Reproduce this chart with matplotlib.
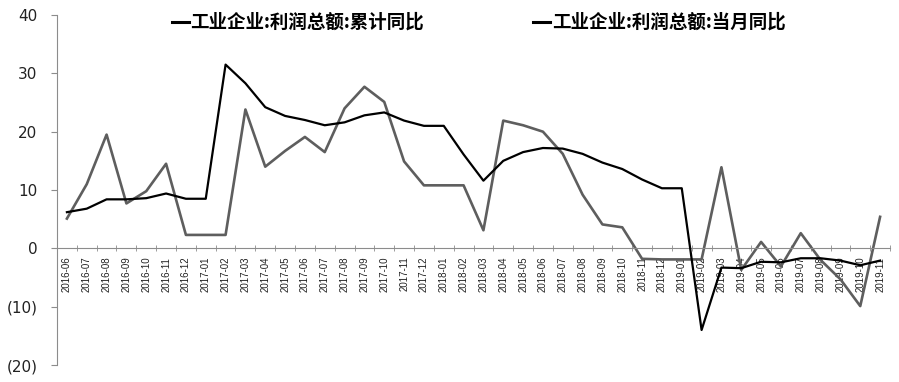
import numpy as np
import matplotlib
matplotlib.use('Agg')
import matplotlib.pyplot as plt
from matplotlib.ticker import FuncFormatter

plt.rcParams['font.family'] = ['DejaVu Sans', 'Noto Sans CJK SC']

months = ['2016-06', '2016-07', '2016-08', '2016-09', '2016-10', '2016-11', '2016-12',
          '2017-01', '2017-02', '2017-03', '2017-04', '2017-05', '2017-06', '2017-07',
          '2017-08', '2017-09', '2017-10', '2017-11', '2017-12', '2018-01', '2018-02',
          '2018-03', '2018-04', '2018-05', '2018-06', '2018-07', '2018-08', '2018-09',
          '2018-10', '2018-11', '2018-12', '2019-01', '2019-02', '2019-03', '2019-04',
          '2019-05', '2019-06', '2019-07', '2019-08', '2019-09', '2019-10', '2019-11']

# 工业企业:利润总额:累计同比 (%)
cumulative = [6.2, 6.8, 8.4, 8.4, 8.6, 9.4, 8.5, 8.5, 31.5, 28.3, 24.2, 22.7, 22.0, 21.1,
              21.6, 22.8, 23.3, 21.9, 21.0, 21.0, 16.1, 11.6, 15.0, 16.5, 17.2, 17.1,
              16.2, 14.7, 13.6, 11.8, 10.3, 10.3, -14.0, -3.3, -3.4, -2.3, -2.4, -1.7,
              -1.7, -2.1, -2.9, -2.1]

# 工业企业:利润总额:当月同比 (%)
monthly = [5.1, 11.0, 19.5, 7.7, 9.8, 14.5, 2.3, 2.3, 2.3, 23.8, 14.0, 16.7, 19.1, 16.5,
           24.0, 27.7, 25.1, 14.9, 10.8, 10.8, 10.8, 3.1, 21.9, 21.1, 20.0, 16.2, 9.2,
           4.1, 3.6, -1.8, -1.9, -1.9, -1.9, 13.9, -3.7, 1.1, -3.1, 2.6, -2.0, -5.3,
           -9.9, 5.4]

label_cum = '工业企业:利润总额:累计同比'
label_mon = '工业企业:利润总额:当月同比'

fig = plt.figure(figsize=(8.99, 3.82), dpi=100)
ax = fig.add_axes([0.0634, 0.0445, 0.9266, 0.9162])

x = np.arange(len(months))
ax.plot(x, cumulative, color='#000000', lw=1.6, label=label_cum, zorder=3)
ax.plot(x, monthly, color='#5e5e5e', lw=1.9, label=label_mon, zorder=2)

ax.set_xlim(-0.5, len(months) - 0.5)
ax.set_ylim(-20, 40)
ax.set_yticks([-20, -10, 0, 10, 20, 30, 40])
ax.yaxis.set_major_formatter(FuncFormatter(
    lambda v, p: '(%d)' % abs(v) if v < 0 else '%d' % v))

for s in ['top', 'right']:
    ax.spines[s].set_visible(False)
ax.spines['left'].set_color('#8c8c8c')
ax.spines['bottom'].set_color('#8c8c8c')
ax.spines['bottom'].set_position(('data', 0))

ax.tick_params(axis='y', labelsize=11, length=4, color='#8c8c8c', pad=10,
               labelcolor='#222222')
ax.set_xticks(x)
ax.set_xticklabels(months, rotation=90, fontsize=7, family='Liberation Sans')
ax.tick_params(axis='x', which='major', length=0, pad=6, labelcolor='#222222')
ax.set_xticks(np.arange(-0.5, len(months), 1), minor=True)
ax.tick_params(axis='x', which='minor', length=4, color='#8c8c8c', direction='inout')

leg = fig.legend(loc='upper left', bbox_to_anchor=(172 / 899, 1 - 13 / 382), ncol=2,
                 frameon=False, borderpad=0, borderaxespad=0,
                 handlelength=0.9, handletextpad=0.1, columnspacing=5.9,
                 prop={'family': ['Noto Sans CJK SC'], 'weight': 'bold', 'size': 13.3})
for h in leg.get_lines():
    h.set_color('#000000')
    h.set_linewidth(2.2)

fig.savefig('out.png', dpi=100)
